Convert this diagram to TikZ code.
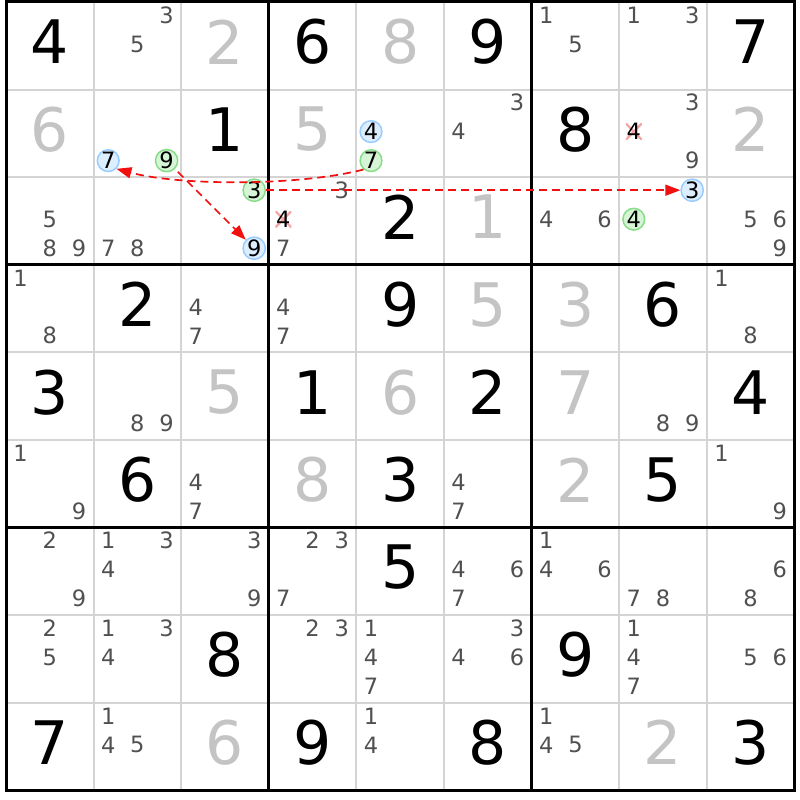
\documentclass[tikz,border=0pt]{standalone}
\usepackage{fontspec}
\setmainfont{DejaVu Sans}
\usetikzlibrary{arrows.meta}

\definecolor{solvedgray}{HTML}{C4C4C4}
\definecolor{candgray}{HTML}{505050}
\definecolor{thingrid}{HTML}{D4D4D4}
\definecolor{bluering}{HTML}{99CCFF}
\definecolor{bluefill}{HTML}{DDEEFF}
\definecolor{greenring}{HTML}{88DD88}
\definecolor{greenfill}{HTML}{D6F5D6}
\definecolor{strikepink}{HTML}{F4A4A4}
\definecolor{linkred}{HTML}{F01010}

\newcommand{\bigdigit}{\fontsize{60}{60}\selectfont}
\newcommand{\smalldigit}{\fontsize{22.5}{22.5}\selectfont}

% where candidate #3 sits in cell (#1,#2)
\newcommand{\setcand}[3]{%
  \pgfmathsetmacro\px{6+(#2-1)*87.6+14.6+29.2*mod(#3-1,3)}%
  \pgfmathsetmacro\py{2+(#1-1)*87.6+13+29*int((#3-1)/3)}}

\tikzset{
  given/.style={font=\bigdigit, text=black, inner sep=0pt},
  solved/.style={font=\bigdigit, text=solvedgray, inner sep=0pt},
  cand/.style={font=\smalldigit, text=candgray, inner sep=0pt},
  bluemark/.style={circle, draw=bluering, fill=bluefill, line width=1.5pt,
    minimum size=21.5pt, inner sep=0pt, font=\smalldigit},
  greenmark/.style={circle, draw=greenring, fill=greenfill, line width=1.5pt,
    minimum size=21.5pt, inner sep=0pt, font=\smalldigit},
  strike/.style={font=\smalldigit, inner sep=0pt, minimum size=16pt, fill=white,
    path picture={\draw[strikepink, line width=2.2pt]
      (path picture bounding box.south west) -- (path picture bounding box.north east)
      (path picture bounding box.north west) -- (path picture bounding box.south east);}},
  link/.style={linkred, line width=1.7pt, dash pattern=on 8pt off 5pt,
    -{Triangle[length=15pt, width=11pt]}},
}

\begin{document}
\begin{tikzpicture}[x=1pt, y=-1pt]
  \fill[white, use as bounding box] (0,0) rectangle (800,800);

  % grid
  \foreach \i in {1,2,4,5,7,8} {
    \draw[thingrid, line width=2pt] ({6+\i*87.6},2) -- ({6+\i*87.6},790);
    \draw[thingrid, line width=2pt] (6,{2+\i*87.6}) -- (794,{2+\i*87.6});
  }
  \foreach \i in {3,6} {
    \draw[line width=3pt] ({6+\i*87.6},2) -- ({6+\i*87.6},790);
    \draw[line width=3pt] (6,{2+\i*87.6}) -- (794,{2+\i*87.6});
  }
  \draw[line width=3pt] (6,2) rectangle (794,790);

  % givens
  \foreach \r/\c/\d in {1/1/4, 1/4/6, 1/6/9, 1/9/7, 2/3/1, 2/7/8, 3/5/2,
      4/2/2, 4/5/9, 4/8/6, 5/1/3, 5/4/1, 5/6/2, 5/9/4, 6/2/6, 6/5/3, 6/8/5,
      7/5/5, 8/3/8, 8/7/9, 9/1/7, 9/4/9, 9/6/8, 9/9/3}
    \node[given] (g\r\c) at ({6+(\c-0.5)*87.6},{2+(\r-0.5)*87.6-4}) {\d};

  % solved
  \foreach \r/\c/\d in {1/3/2, 1/5/8, 2/1/6, 2/4/5, 2/9/2, 3/6/1, 4/6/5,
      4/7/3, 5/3/5, 5/5/6, 5/7/7, 6/4/8, 6/7/2, 9/3/6, 9/8/2}
    \node[solved] (s\r\c) at ({6+(\c-0.5)*87.6},{2+(\r-0.5)*87.6-4}) {\d};

  % candidates
  \foreach \r/\c/\ds in {1/2/{3,5}, 1/7/{1,5}, 1/8/{1,3}, 2/6/{3,4}, 2/8/{3,9},
      3/1/{5,8,9}, 3/2/{7,8}, 3/4/{3,7}, 3/7/{4,6}, 3/9/{5,6,9},
      4/1/{1,8}, 4/3/{4,7}, 4/4/{4,7}, 4/9/{1,8}, 5/2/{8,9}, 5/8/{8,9},
      6/1/{1,9}, 6/3/{4,7}, 6/6/{4,7}, 6/9/{1,9},
      7/1/{2,9}, 7/2/{1,3,4}, 7/3/{3,9}, 7/4/{2,3,7}, 7/6/{4,6,7},
      7/7/{1,4,6}, 7/8/{7,8}, 7/9/{6,8},
      8/1/{2,5}, 8/2/{1,3,4}, 8/4/{2,3}, 8/5/{1,4,7}, 8/6/{3,4,6},
      8/8/{1,4,7}, 8/9/{5,6}, 9/2/{1,4,5}, 9/5/{1,4}, 9/7/{1,4,5}} {
    \foreach \d in \ds {
      \setcand{\r}{\c}{\d}
      \node[cand] (p\r\c\d) at (\px,\py) {\d};
    }
  }

  % marked candidates
  \setcand{2}{2}{7} \node[bluemark] (b7) at (\px,\py) {7};
  \setcand{2}{2}{9} \node[greenmark] (n9) at (\px,\py) {9};
  \setcand{2}{5}{4} \node[bluemark] (b4) at (\px,\py) {4};
  \setcand{2}{5}{7} \node[greenmark] (n7) at (\px,\py) {7};
  \setcand{3}{3}{3} \node[greenmark] (n3) at (\px,\py) {3};
  \setcand{3}{3}{9} \node[bluemark] (b9) at (\px,\py) {9};
  \setcand{3}{8}{3} \node[bluemark] (b3) at (\px,\py) {3};
  \setcand{3}{8}{4} \node[greenmark] (n4) at (\px,\py) {4};
  \setcand{2}{8}{4} \node[strike] (x28) at (\px,\py) {4};
  \setcand{3}{4}{4} \node[strike] (x34) at (\px,\py) {4};

  % links
  \draw[link, shorten <=4pt] (n9) -- (b9);
  \draw[link] (n3) -- (b3);
  \draw[link] (n7.-130) .. controls (300,186) and (180,186) .. (b7.-45);
\end{tikzpicture}
\end{document}
